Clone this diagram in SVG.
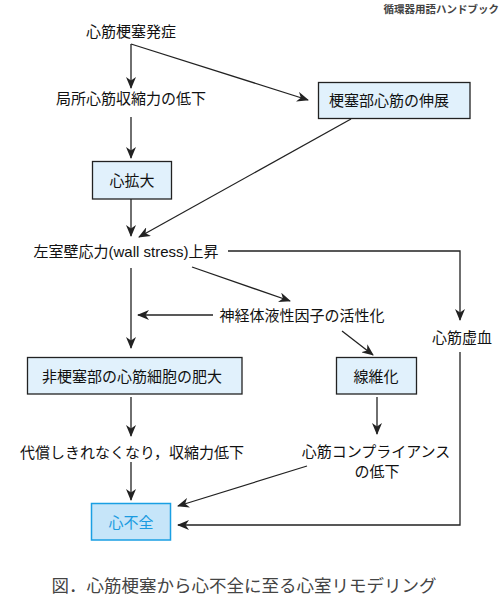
<svg xmlns="http://www.w3.org/2000/svg" width="500" height="600" viewBox="0 0 500 600">
<defs>
<style>
text{font-family:"Liberation Sans","Noto Sans CJK JP",sans-serif;font-size:15px;fill:#111;text-anchor:middle;dominant-baseline:central}
.box{fill:#e1f1fc;stroke:#222;stroke-width:1.3}
.hf{fill:#c6e5f9;stroke:#1a9fe3;stroke-width:1.5}
.hft{fill:#1a9be0}
.ln{fill:none;stroke:#222;stroke-width:1.3}
.cap{font-size:17.5px;fill:#444}
.hdr{font-size:10.5px;font-weight:bold;fill:#444;text-anchor:end}
</style>
<marker id="ah" viewBox="0 0 12 10" refX="11" refY="5" markerWidth="12" markerHeight="10" markerUnits="userSpaceOnUse" orient="auto">
<path d="M0,0 L12,5 L0,10 L3.5,5 z" fill="#222"/>
</marker>
</defs>
<text class="hdr" x="499" y="9">循環器用語ハンドブック</text>
<g id="connectors">
<path class="ln" d="M131,44 V88" marker-end="url(#ah)"/>
<path class="ln" d="M131,44 L308,100" marker-end="url(#ah)"/>
<path class="ln" d="M131,117 V158" marker-end="url(#ah)"/>
<path class="ln" d="M351,119 L139,237" marker-end="url(#ah)"/>
<path class="ln" d="M131,199 V236" marker-end="url(#ah)"/>
<path class="ln" d="M228,251 H460 V320" marker-end="url(#ah)"/>
<path class="ln" d="M131,268 V348" marker-end="url(#ah)"/>
<path class="ln" d="M192,267 L290,301" marker-end="url(#ah)"/>
<path class="ln" d="M213,315 H138" marker-end="url(#ah)"/>
<path class="ln" d="M342,331 L373,355" marker-end="url(#ah)"/>
<path class="ln" d="M131,397 V436" marker-end="url(#ah)"/>
<path class="ln" d="M377,397 V434" marker-end="url(#ah)"/>
<path class="ln" d="M460,352 V525 H178" marker-end="url(#ah)"/>
<path class="ln" d="M131,462 V500" marker-end="url(#ah)"/>
<path class="ln" d="M307,466 L178,506" marker-end="url(#ah)"/>
</g>
<g id="n_onset"><text x="131" y="31">心筋梗塞発症</text></g>
<g id="n_local"><text x="131" y="98">局所心筋収縮力の低下</text></g>
<g id="n_stretch"><rect class="box" x="318.5" y="82.5" width="151.5" height="36"/><text x="389" y="100">梗塞部心筋の伸展</text></g>
<g id="n_dilat"><rect class="box" x="92.5" y="161.5" width="79" height="37.5"/><text x="132" y="180">心拡大</text></g>
<g id="n_stress"><text x="126" y="251">左室壁応力(wall stress)上昇</text></g>
<g id="n_neuro"><text x="302" y="315">神経体液性因子の活性化</text></g>
<g id="n_ischemia"><text x="462" y="337">心筋虚血</text></g>
<g id="n_hyper"><rect class="box" x="27.5" y="357.5" width="214.5" height="36.5"/><text x="132" y="376">非梗塞部の心筋細胞の肥大</text></g>
<g id="n_fibro"><rect class="box" x="336.5" y="357.5" width="80" height="36.5"/><text x="376" y="376">線維化</text></g>
<g id="n_decomp"><text x="132" y="452">代償しきれなくなり，収縮力低下</text></g>
<g id="n_compl"><text x="376" y="451">心筋コンプライアンス</text><text x="377" y="471">の低下</text></g>
<g id="n_hf"><rect class="hf" x="91.5" y="503.5" width="79" height="36.5"/><text class="hft" x="131" y="522">心不全</text></g>
<text class="cap" x="244" y="586">図．心筋梗塞から心不全に至る心室リモデリング</text>
</svg>
